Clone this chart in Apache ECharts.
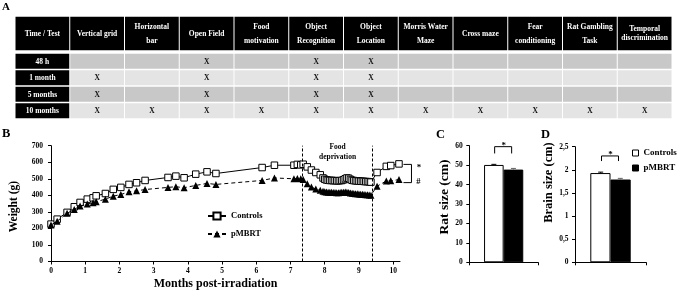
<!DOCTYPE html>
<html>
<head>
<meta charset="utf-8">
<script src="https://cdn.jsdelivr.net/npm/echarts@6/dist/echarts.min.js"></script>
<style>html,body{margin:0;padding:0;background:#fff}#c{width:685px;height:295px}</style>
</head>
<body>
<div id="c"></div>
<script>
// ---------- Panel A: test schedule table ----------
const tableCorner = 'Time / Test';
const tableTests = ['Vertical grid', 'Horizontal\nbar', 'Open Field', 'Food\nmotivation', 'Object\nRecognition',
  'Object\nLocation', 'Morris Water\nMaze', 'Cross maze', 'Fear\nconditioning', 'Rat Gambling\nTask', 'Temporal\ndiscrimination'];
const tableTimes = ['48 h', '1 month', '5 months', '10 months'];
const marks48h = [0, 0, 1, 0, 1, 1, 0, 0, 0, 0, 0];
const marks1m  = [1, 0, 1, 0, 1, 1, 0, 0, 0, 0, 0];
const marks5m  = [1, 0, 1, 0, 1, 1, 0, 0, 0, 0, 0];
const marks10m = [1, 1, 1, 1, 1, 1, 1, 1, 1, 1, 1];

// ---------- Panel B: body weight ----------
const monthsB = [0, 0.18, 0.47, 0.68, 0.85, 1.06, 1.23, 1.32, 1.59, 1.82, 2.04, 2.28, 2.5, 2.75, 3.42, 3.65, 3.89, 4.23, 4.56, 4.82,
  6.17, 6.53, 7.1, 7.2, 7.3,
  7.37, 7.49, 7.61, 7.74, 7.87, 7.95, 8.0, 8.05, 8.1, 8.15, 8.2, 8.25, 8.3, 8.35, 8.4, 8.45, 8.5, 8.55, 8.6, 8.65, 8.7, 8.75,
  8.8, 8.85, 8.9, 8.95, 9.0, 9.05, 9.1, 9.15, 9.2, 9.25, 9.3, 9.35,
  9.53, 9.8, 9.93, 10.17];
const weightControls = [226, 256, 297, 331, 357, 377, 385, 397, 411, 436, 448, 466, 476, 490, 508, 516, 506, 528, 542, 532,
  568, 582, 582, 587, 584,
  588, 572, 553, 538, 524, 505, 497, 493, 491, 490, 490, 489, 489, 488, 488, 489, 490, 494, 500, 505, 503, 496,
  491, 489, 488, 487, 486, 485, 485, 484, 483, 483, 482, 480,
  538, 575, 580, 590];
const weightPMBRT = [220, 244, 291, 315, 335, 347, 355, 361, 377, 395, 405, 421, 427, 435, 448, 452, 446, 460, 472, 466,
  490, 505, 500, 501, 500,
  495, 470, 450, 438, 430, 425, 422, 420, 419, 418, 418, 417, 417, 416, 416, 417, 418, 419, 420, 419, 417, 414,
  412, 411, 410, 409, 408, 407, 406, 405, 404, 403, 402, 401,
  455, 487, 488, 495];
const foodDeprivation = [7.35, 9.4];
const xTicksB = [0, 1, 2, 3, 4, 5, 6, 7, 8, 9, 10];

// ---------- Panels C & D ----------
const groups = ['Controls', 'pMBRT'];
const ratSize = [50.1, 47.7];
const ratSizeErr = [0.3, 0.6];
const brainSize = [1.93, 1.79];
const brainSizeErr = [0.02, 0.025];
const ratSigBracket = [59.5, 56];
const brainSigBracket = [2.3, 2.19];

// ---------------------------------------------------------------
const F = '"Liberation Serif", "Times New Roman", serif';
const chart = echarts.init(document.getElementById('c'), null, {renderer: 'canvas', width: 685, height: 295});

const tCols = [tableCorner].concat(tableTests);
const markRows = [marks48h, marks1m, marks5m, marks10m];
const headData = tCols.map((t, i) => [i, 0]);
const headText = tCols.slice();
const bodyData = [], bodyText = [];
tableTimes.forEach((time, r) => {
  tCols.forEach((t, c) => {
    bodyData.push([c, r]);
    bodyText.push(c === 0 ? time : (markRows[r][c - 1] ? 'X' : ''));
  });
});

function cellRender(texts, isHead) {
  return function (params, api) {
    const col = api.value(0), row = api.value(1);
    const p = api.coord([col, row]);
    const s = api.size([1, 1]);
    const dark = isHead || col === 0;
    const fill = dark ? '#000' : (row % 2 === 0 ? '#c8c8c8' : '#e4e4e4');
    const txt = texts[params.dataIndex];
    const lh = txt.indexOf('discrimination') >= 0 ? 9 : 13.5;
    return {
      type: 'group', children: [
        {type: 'rect', shape: {x: p[0] - s[0] / 2 + 0.5, y: p[1] - s[1] / 2 + 0.75, width: s[0] - 1, height: s[1] - 1.5}, style: {fill: fill}},
        {type: 'text', x: p[0], y: p[1] + 0.5, style: {text: txt, align: 'center', verticalAlign: 'middle', fill: dark ? '#fff' : '#111',
          fontSize: 7.5, fontWeight: 'bold', fontFamily: F, lineHeight: lh}}
      ]
    };
  };
}

const BW = 19.6;
function errRender(params, api) {
  const v = api.value(1), e = api.value(2);
  const base = api.coord([0, v]);
  const top = api.coord([0, v + e]);
  const x = base[0] + (params.dataIndex === 0 ? -BW / 2 : BW / 2);
  const col = params.dataIndex === 0 ? '#000' : '#666';
  return {type: 'group', children: [
    {type: 'line', shape: {x1: x, y1: base[1], x2: x, y2: top[1]}, style: {stroke: col, lineWidth: 1}},
    {type: 'line', shape: {x1: x - 2.5, y1: top[1], x2: x + 2.5, y2: top[1]}, style: {stroke: col, lineWidth: 1}}
  ]};
}
function sigRender(params, api) {
  const t = api.coord([0, api.value(1)]);
  const l = api.coord([0, api.value(2)]);
  const x1 = t[0] - 9, x2 = t[0] + 8;
  return {type: 'group', children: [
    {type: 'polyline', shape: {points: [[x1, l[1]], [x1, t[1]], [x2, t[1]], [x2, l[1]]]}, style: {stroke: '#000', lineWidth: 1, fill: null}},
    {type: 'text', x: t[0], y: t[1] - 1, style: {text: '*', align: 'center', verticalAlign: 'middle', fontSize: 9, fontWeight: 'bold', fontFamily: F, fill: '#000'}}
  ]};
}
function bracketBRender(params, api) {
  const a = api.coord([api.value(0), api.value(1)]);
  const b = api.coord([api.value(0), api.value(2)]);
  const x1 = a[0] + 4.5, x2 = a[0] + 12.5, y1 = a[1] + 0.5, y2 = b[1] + 3;
  return {type: 'group', children: [
    {type: 'polyline', shape: {points: [[x1, y1], [x2, y1], [x2, y2], [x1, y2]]}, style: {stroke: '#000', lineWidth: 1, fill: null}},
    {type: 'text', x: a[0] + 20, y: y1 + 3, style: {text: '*', align: 'center', verticalAlign: 'middle', fontSize: 9, fontWeight: 'bold', fontFamily: F, fill: '#000'}},
    {type: 'text', x: a[0] + 19.5, y: y2 - 1, style: {text: '#', align: 'center', verticalAlign: 'middle', fontSize: 8.5, fontWeight: 'bold', fontFamily: F, fill: '#000'}}
  ]};
}

const lastI = monthsB.length - 1;
const tickLabel = {color: '#000', fontFamily: F, fontWeight: 'bold', fontSize: 7.5};
const axLine = {show: true, lineStyle: {color: '#000', width: 1}};
const axTick = {show: true, length: 3, lineStyle: {color: '#000', width: 1}};
const nameStyle = {color: '#000', fontFamily: F, fontWeight: 'bold'};

const option = {
  animation: false,
  textStyle: {fontFamily: F},
  grid: [
    {left: 15, top: 16, width: 657, height: 35},
    {left: 15, top: 53, width: 657, height: 66},
    {left: 43, top: 145.7, width: 357, height: 115.8},
    {left: 469.3, top: 145.7, width: 68.7, height: 116.6},
    {left: 575, top: 146.7, width: 71, height: 115.6}
  ],
  xAxis: [
    {type: 'category', gridIndex: 0, data: tCols, show: false},
    {type: 'category', gridIndex: 1, data: tCols, show: false},
    {type: 'value', gridIndex: 2, min: 0, max: 10.2, interval: 1, axisLine: axLine, axisTick: Object.assign({customValues: xTicksB}, axTick),
      axisLabel: Object.assign({customValues: xTicksB, margin: 6}, tickLabel), splitLine: {show: false},
      name: 'Months post-irradiation', nameLocation: 'middle', nameGap: 16,
      nameTextStyle: Object.assign({fontSize: 12, padding: [0, 20, 0, 0]}, nameStyle)},
    {type: 'category', gridIndex: 3, data: [''], axisLine: axLine, axisTick: axTick, axisLabel: {show: false}},
    {type: 'category', gridIndex: 4, data: [''], axisLine: axLine, axisTick: axTick, axisLabel: {show: false}}
  ],
  yAxis: [
    {type: 'category', gridIndex: 0, data: ['head'], show: false},
    {type: 'category', gridIndex: 1, data: tableTimes, inverse: true, show: false},
    {type: 'value', gridIndex: 2, min: 0, max: 700, interval: 100, axisLine: axLine, axisTick: axTick,
      axisLabel: Object.assign({margin: 8}, tickLabel), splitLine: {show: false},
      name: 'Weight (g)', nameLocation: 'middle', nameRotate: 90, nameGap: 31,
      nameTextStyle: Object.assign({fontSize: 11.5, padding: [0, 6, 0, 0]}, nameStyle)},
    {type: 'value', gridIndex: 3, min: 0, max: 60, interval: 10, axisLine: axLine, axisTick: axTick,
      axisLabel: Object.assign({margin: 6.5}, tickLabel), splitLine: {show: false},
      name: 'Rat size (cm)', nameLocation: 'middle', nameRotate: 90, nameGap: 11,
      nameTextStyle: Object.assign({fontSize: 13.5, padding: [0, 0, 0, 14]}, nameStyle)},
    {type: 'value', gridIndex: 4, min: 0, max: 2.5, interval: 0.5, axisLine: axLine, axisTick: axTick,
      axisLabel: Object.assign({margin: 6.5, formatter: v => String(v).replace('.', ',')}, tickLabel), splitLine: {show: false},
      name: 'Brain size (cm)', nameLocation: 'middle', nameRotate: 90, nameGap: 17,
      nameTextStyle: Object.assign({fontSize: 12.5, padding: [0, 0, 0, 44]}, nameStyle)}
  ],
  legend: [
    {data: groups, orient: 'vertical', left: 207, top: 211, itemWidth: 18, itemHeight: 9, itemGap: 8, padding: 0,
      selectedMode: false, textStyle: {color: '#000', fontFamily: F, fontWeight: 'bold', fontSize: 8.5, lineHeight: 10}},
    {data: groups, orient: 'vertical', left: 632, top: 148, itemWidth: 6, itemHeight: 6, itemGap: 5, padding: 0, icon: 'rect',
      selectedMode: false, itemStyle: {borderColor: '#000', borderWidth: 1},
      textStyle: {color: '#000', fontFamily: F, fontWeight: 'bold', fontSize: 9, lineHeight: 10}}
  ],
  series: [
    {type: 'line', name: groups[0], xAxisIndex: 2, yAxisIndex: 2, data: monthsB.map((m, i) => [m, weightControls[i]]),
      symbol: 'rect', symbolSize: 6.5, clip: false, z: 3,
      lineStyle: {color: '#000', width: 1}, itemStyle: {color: '#fff', borderColor: '#000', borderWidth: 1},
      markLine: {silent: true, symbol: ['none', 'none'], label: {show: false}, lineStyle: {color: '#000', type: [3, 2], width: 1},
        data: foodDeprivation.map(v => ({xAxis: v}))},
      markArea: {silent: true, itemStyle: {color: 'rgba(0,0,0,0)'},
        label: {show: true, position: 'insideTop', offset: [0, -9], formatter: 'Food\ndeprivation', color: '#000',
          fontFamily: F, fontWeight: 'bold', fontSize: 7.5, lineHeight: 10},
        data: [[{xAxis: foodDeprivation[0]}, {xAxis: foodDeprivation[1]}]]}},
    {type: 'line', name: groups[1], xAxisIndex: 2, yAxisIndex: 2, data: monthsB.map((m, i) => [m, weightPMBRT[i]]),
      symbol: 'triangle', symbolSize: 7, clip: false, z: 4,
      lineStyle: {color: '#000', width: 1, type: [4, 3]}, itemStyle: {color: '#000'}},
    {type: 'custom', xAxisIndex: 2, yAxisIndex: 2, renderItem: bracketBRender, silent: true, z: 5,
      data: [[monthsB[lastI], weightControls[lastI], weightPMBRT[lastI]]]},
    {type: 'custom', xAxisIndex: 0, yAxisIndex: 0, renderItem: cellRender(headText, true), data: headData, silent: true},
    {type: 'custom', xAxisIndex: 1, yAxisIndex: 1, renderItem: cellRender(bodyText, false), data: bodyData, silent: true},
    {type: 'bar', name: groups[0], xAxisIndex: 3, yAxisIndex: 3, data: [ratSize[0]], barWidth: BW, barGap: '0%',
      itemStyle: {color: '#fff', borderColor: '#000', borderWidth: 1}},
    {type: 'bar', name: groups[1], xAxisIndex: 3, yAxisIndex: 3, data: [ratSize[1]], barWidth: BW, barGap: '0%',
      itemStyle: {color: '#000', borderColor: '#000', borderWidth: 1}},
    {type: 'custom', xAxisIndex: 3, yAxisIndex: 3, renderItem: errRender, silent: true, z: 5,
      data: groups.map((g, i) => [0, ratSize[i], ratSizeErr[i]])},
    {type: 'custom', xAxisIndex: 3, yAxisIndex: 3, renderItem: sigRender, silent: true, z: 5,
      data: [[0, ratSigBracket[0], ratSigBracket[1]]]},
    {type: 'bar', name: groups[0], xAxisIndex: 4, yAxisIndex: 4, data: [brainSize[0]], barWidth: 20.2, barGap: '0%',
      itemStyle: {color: '#fff', borderColor: '#000', borderWidth: 1}},
    {type: 'bar', name: groups[1], xAxisIndex: 4, yAxisIndex: 4, data: [brainSize[1]], barWidth: 20.2, barGap: '0%',
      itemStyle: {color: '#000', borderColor: '#000', borderWidth: 1}},
    {type: 'custom', xAxisIndex: 4, yAxisIndex: 4, renderItem: errRender, silent: true, z: 5,
      data: groups.map((g, i) => [0, brainSize[i], brainSizeErr[i]])},
    {type: 'custom', xAxisIndex: 4, yAxisIndex: 4, renderItem: sigRender, silent: true, z: 5,
      data: [[0, brainSigBracket[0], brainSigBracket[1]]]}
  ],
  graphic: [
    {type: 'text', left: 2, top: 2, style: {text: 'A', fontSize: 11, fontWeight: 'bold', fontFamily: F, fill: '#000'}},
    {type: 'text', left: 2, top: 127, style: {text: 'B', fontSize: 12.5, fontWeight: 'bold', fontFamily: F, fill: '#000'}},
    {type: 'text', left: 436, top: 128, style: {text: 'C', fontSize: 12.5, fontWeight: 'bold', fontFamily: F, fill: '#000'}},
    {type: 'text', left: 541, top: 128, style: {text: 'D', fontSize: 12.5, fontWeight: 'bold', fontFamily: F, fill: '#000'}}
  ]
};
chart.setOption(option);
</script>
</body>
</html>
